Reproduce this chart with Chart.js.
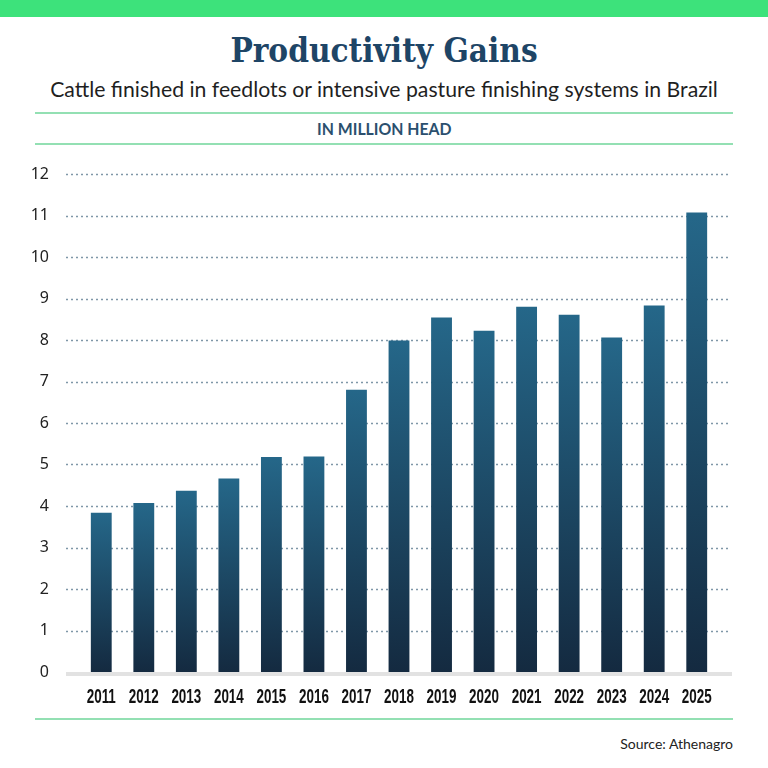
<!DOCTYPE html>
<html>
<head>
<meta charset="utf-8">
<script src="https://cdn.jsdelivr.net/npm/chart.js@4"></script>
<style>
  html, body { margin: 0; padding: 0; background: #fff; }
  #page { position: relative; width: 768px; height: 768px; overflow: hidden; }
  .band { position: absolute; left: 0; top: 0; width: 768px; height: 17px; background: #3de27b; }
  .rule { position: absolute; left: 35px; width: 698px; height: 2px; background: #93e0b3; }
  .title { position: absolute; left: 0; width: 768px; top: 31px; text-align: center;
    font-family: "DejaVu Serif Condensed", "DejaVu Serif", serif; font-weight: bold;
    font-size: 33px; color: #1e4566; }
  .sub { position: absolute; left: 0; width: 768px; top: 76px; text-align: center;
    font-family: Lato, "Noto Sans", sans-serif; font-size: 21px; color: #1f1f1f; white-space: nowrap; }
  .unit { position: absolute; left: 0; width: 768px; top: 118px; text-align: center;
    font-family: Lato, sans-serif; font-weight: bold; font-size: 17px; color: #2b4f6e; }
  .unit span { display: inline-block; transform: scaleX(0.93); }
  .src { position: absolute; right: 35px; top: 735px;
    font-family: Lato, sans-serif; font-size: 14px; color: #222; }
  #wrap { position: absolute; left: 0; top: 0; width: 768px; height: 768px; }
</style>
</head>
<body>
<div id="page">
  <div class="band"></div>
  <div class="title">Productivity Gains</div>
  <div class="sub"><span id="subtxt">Cattle finished in feedlots or intensive pasture finishing systems in Brazil</span></div>
  <div class="rule" style="top:112px"></div>
  <div class="unit"><span>IN MILLION HEAD</span></div>
  <div class="rule" style="top:143px"></div>
  <div class="rule" style="top:718px"></div>
  <div class="src">Source: Athenagro</div>
  <div id="wrap"><canvas id="chart"></canvas></div>
</div>
<script>
const years = ['2011', '2012', '2013', '2014', '2015', '2016', '2017', '2018',
  '2019', '2020', '2021', '2022', '2023', '2024', '2025'];
const cattle = [3.84, 4.07, 4.37, 4.66, 5.18, 5.19, 6.8, 7.99,
  8.54, 8.22, 8.8, 8.61, 8.06, 8.83, 11.07];
const yTicks = [0, 1, 2, 3, 4, 5, 6, 7, 8, 9, 10, 11, 12];

// squeeze the subtitle to the width it has in the picture
const sub = document.getElementById('subtxt');
const w = sub.getBoundingClientRect().width;
if (w > 0) sub.parentNode.style.fontSize = (21 * 668 / w).toFixed(2) + 'px';

// dotted grid and grey base line, a bit wider than the plot area
const gridPlugin = {
  id: 'grid',
  beforeDatasetsDraw(chart) {
    const { ctx, scales: { y } } = chart;
    ctx.save();
    ctx.strokeStyle = '#7f97a8';
    ctx.lineWidth = 1.4;
    ctx.setLineDash([2, 3]);
    yTicks.filter(v => v > 0).forEach(v => {
      const py = Math.round(y.getPixelForValue(v)) + 0.5;
      ctx.beginPath();
      ctx.moveTo(66, py);
      ctx.lineTo(731, py);
      ctx.stroke();
    });
    ctx.setLineDash([]);
    ctx.fillStyle = '#e2e2e2';
    ctx.fillRect(66, y.getPixelForValue(0), 666, 4);
    ctx.restore();
  }
};

// condensed year labels (no narrow font installed, so squeeze horizontally)
const yearLabels = {
  id: 'yearLabels',
  afterDraw(chart) {
    const { ctx, scales: { x } } = chart;
    ctx.save();
    ctx.fillStyle = '#111';
    ctx.font = 'bold 21px "Liberation Sans", Arial, sans-serif';
    ctx.textAlign = 'center';
    ctx.textBaseline = 'alphabetic';
    years.forEach((lab, i) => {
      ctx.save();
      ctx.translate(x.getPixelForTick(i), 703);
      ctx.scale(0.64, 1);
      ctx.fillText(lab, 0, 0);
      ctx.restore();
    });
    ctx.restore();
  }
};

function barFill(context) {
  const chart = context.chart;
  if (!chart.chartArea) return '#1f4d6e';
  const y = chart.scales.y;
  const top = y.getPixelForValue(context.raw);
  const bottom = y.getPixelForValue(0);
  const g = chart.ctx.createLinearGradient(0, top, 0, bottom);
  g.addColorStop(0, '#256789');
  g.addColorStop(1, '#142a40');
  return g;
}

new Chart(document.getElementById('chart'), {
  type: 'bar',
  data: {
    labels: years,
    datasets: [{
      data: cattle,
      backgroundColor: barFill,
      borderWidth: 0,
      barPercentage: 0.5,
      categoryPercentage: 0.98
    }]
  },
  options: {
    responsive: true,
    maintainAspectRatio: false,
    animation: false,
    devicePixelRatio: 1,
    layout: { padding: { top: 174, right: 50, bottom: 52, left: 0 } },
    plugins: { legend: { display: false }, tooltip: { enabled: false } },
    scales: {
      x: {
        grid: { display: false },
        border: { display: false },
        afterFit(scale) { scale.height = 44; },
        ticks: { display: false, autoSkip: false, maxRotation: 0 }
      },
      y: {
        min: 0,
        max: 12,
        afterFit(scale) { scale.width = 80; },
        afterBuildTicks(scale) { scale.ticks = yTicks.map(v => ({ value: v })); },
        grid: { display: false },
        border: { display: false },
        ticks: {
          padding: 23,
          color: '#222',
          font: { family: '"Noto Sans", sans-serif', size: 16 }
        }
      }
    }
  },
  plugins: [gridPlugin, yearLabels]
});
</script>
</body>
</html>
